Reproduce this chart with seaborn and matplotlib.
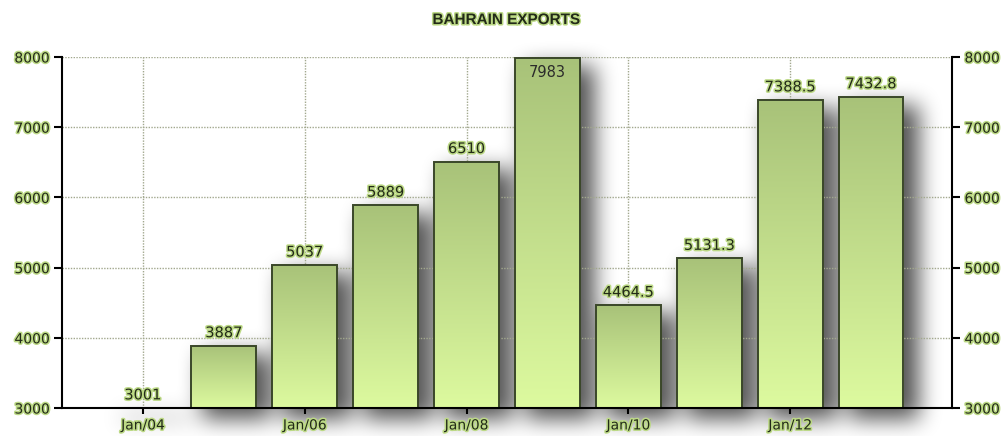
import numpy as np
import matplotlib
matplotlib.use("Agg")
import matplotlib.pyplot as plt
import matplotlib.patheffects as pe
from matplotlib.colors import LinearSegmentedColormap
import seaborn as sns

years = ["2004", "2005", "2006", "2007", "2008", "2009", "2010", "2011", "2012", "2013"]
exports = [3001, 3887, 5037, 5889, 6510, 7983, 4464.5, 5131.3, 7388.5, 7432.8]
value_labels = ["3001", "3887", "5037", "5889", "6510", "7983", "4464.5", "5131.3", "7388.5", "7432.8"]
tick_pos = [0, 2, 4, 6, 8]
tick_labels = ["Jan/04", "Jan/06", "Jan/08", "Jan/10", "Jan/12"]
y_ticks = [3000, 4000, 5000, 6000, 7000, 8000]

sns.set_theme(style="white")
plt.rcParams["font.family"] = ["DejaVu Sans"]

text_color = "#222a18"
glow = [pe.withStroke(linewidth=2.2, foreground="#bcd985")]

fig = plt.figure(figsize=(10.06, 4.36), dpi=100, facecolor="white")
ax = fig.add_axes([0.0616, 0.0642, 0.8847, 0.8051])
ax.set_facecolor("white")

sns.barplot(x=years, y=exports, color="#bcd68a", width=0.8,
            edgecolor="#3a4729", linewidth=1.4, ax=ax, zorder=2)

ax.set_xlim(-1, 10)
ax.set_ylim(3000, 8000)

# drop shadow behind the bars (blurred, offset right/down)
def box_blur(a, r, axis):
    pad = [(0, 0), (0, 0)]
    pad[axis] = (r, r)
    c = np.cumsum(np.pad(a, pad), axis=axis)
    c = np.insert(c, 0, 0, axis=axis)
    n = 2 * r + 1
    if axis == 0:
        return (c[n:] - c[:-n]) / n
    return (c[:, n:] - c[:, :-n]) / n

sx = np.linspace(-1, 10, 890)
sy = np.linspace(2500, 8400, 414)
mask = np.zeros((sy.size, sx.size))
for i, v in enumerate(exports):
    cols = np.abs(sx - i - 0.15) < 0.43
    rows = (sy < v - 120) & (sy > 2830)
    mask[np.ix_(rows, cols)] = 1.0
for _ in range(3):
    mask = box_blur(mask, 10, 0)
    mask = box_blur(mask, 10, 1)
shadow = np.zeros((sy.size, sx.size, 4))
shadow[..., 3] = 0.68 * mask
ax.imshow(shadow, extent=[-1, 10, 2500, 8400], origin="lower", aspect="auto",
          zorder=0.3, clip_on=False, interpolation="bilinear")

# gradient fill for each bar
cmap = LinearSegmentedColormap.from_list("bar", ["#ddfa9f", "#a8c279"])
grad = np.linspace(0, 1, 256).reshape(-1, 1)
for patch in ax.patches:
    x0, w, h = patch.get_x(), patch.get_width(), patch.get_height()
    im = ax.imshow(grad, extent=[x0, x0 + w, 3000, h], origin="lower",
                   cmap=cmap, aspect="auto", zorder=1.9)
    im.set_clip_path(patch)
    patch.set_facecolor("none")
    patch.set_zorder(2.1)

ax.set_xlim(-1, 10)
ax.set_ylim(3000, 8000)

for i, (v, lab) in enumerate(zip(exports, value_labels)):
    if v > 7900:
        ax.annotate(lab, (i, v), xytext=(0, -5), textcoords="offset points",
                    ha="center", va="top", fontsize=10.5, color="#2b2b2b", zorder=3)
    else:
        ax.annotate(lab, (i, v), xytext=(0, 4), textcoords="offset points",
                    ha="center", va="bottom", fontsize=10.5, color=text_color,
                    path_effects=glow, zorder=3)

ax.set_xticks(tick_pos)
ax.set_xticklabels(tick_labels)
ax.set_yticks(y_ticks)
ax.set_xlabel("")
ax.set_ylabel("")

ax.set_axisbelow(True)
ax.grid(True, linestyle=(0, (1, 1)), color="#a2a88e", linewidth=1)

ax.tick_params(axis="y", which="major", direction="out", length=6, width=1.5,
               color="black", pad=3, left=True, right=True,
               labelleft=True, labelright=True, labelsize=10, labelcolor=text_color)
ax.tick_params(axis="x", which="major", direction="out", length=4, width=1.5,
               color="black", pad=3.5, bottom=True, labelsize=10, labelcolor=text_color)

for tick in ax.yaxis.get_major_ticks():
    tick.label1.set_path_effects(glow)
    tick.label2.set_path_effects(glow)
for tick in ax.xaxis.get_major_ticks():
    tick.label1.set_path_effects(glow)

ax.spines["top"].set_visible(False)
for side in ["left", "right", "bottom"]:
    ax.spines[side].set_color("black")
    ax.spines[side].set_linewidth(1.5)

fig.text(0.503, 0.954, "BAHRAIN EXPORTS", ha="center", va="center",
         fontsize=11, fontweight="bold", family=["Liberation Sans", "DejaVu Sans"],
         color=text_color, path_effects=glow)

fig.savefig("out.png", dpi=100, facecolor="white")
